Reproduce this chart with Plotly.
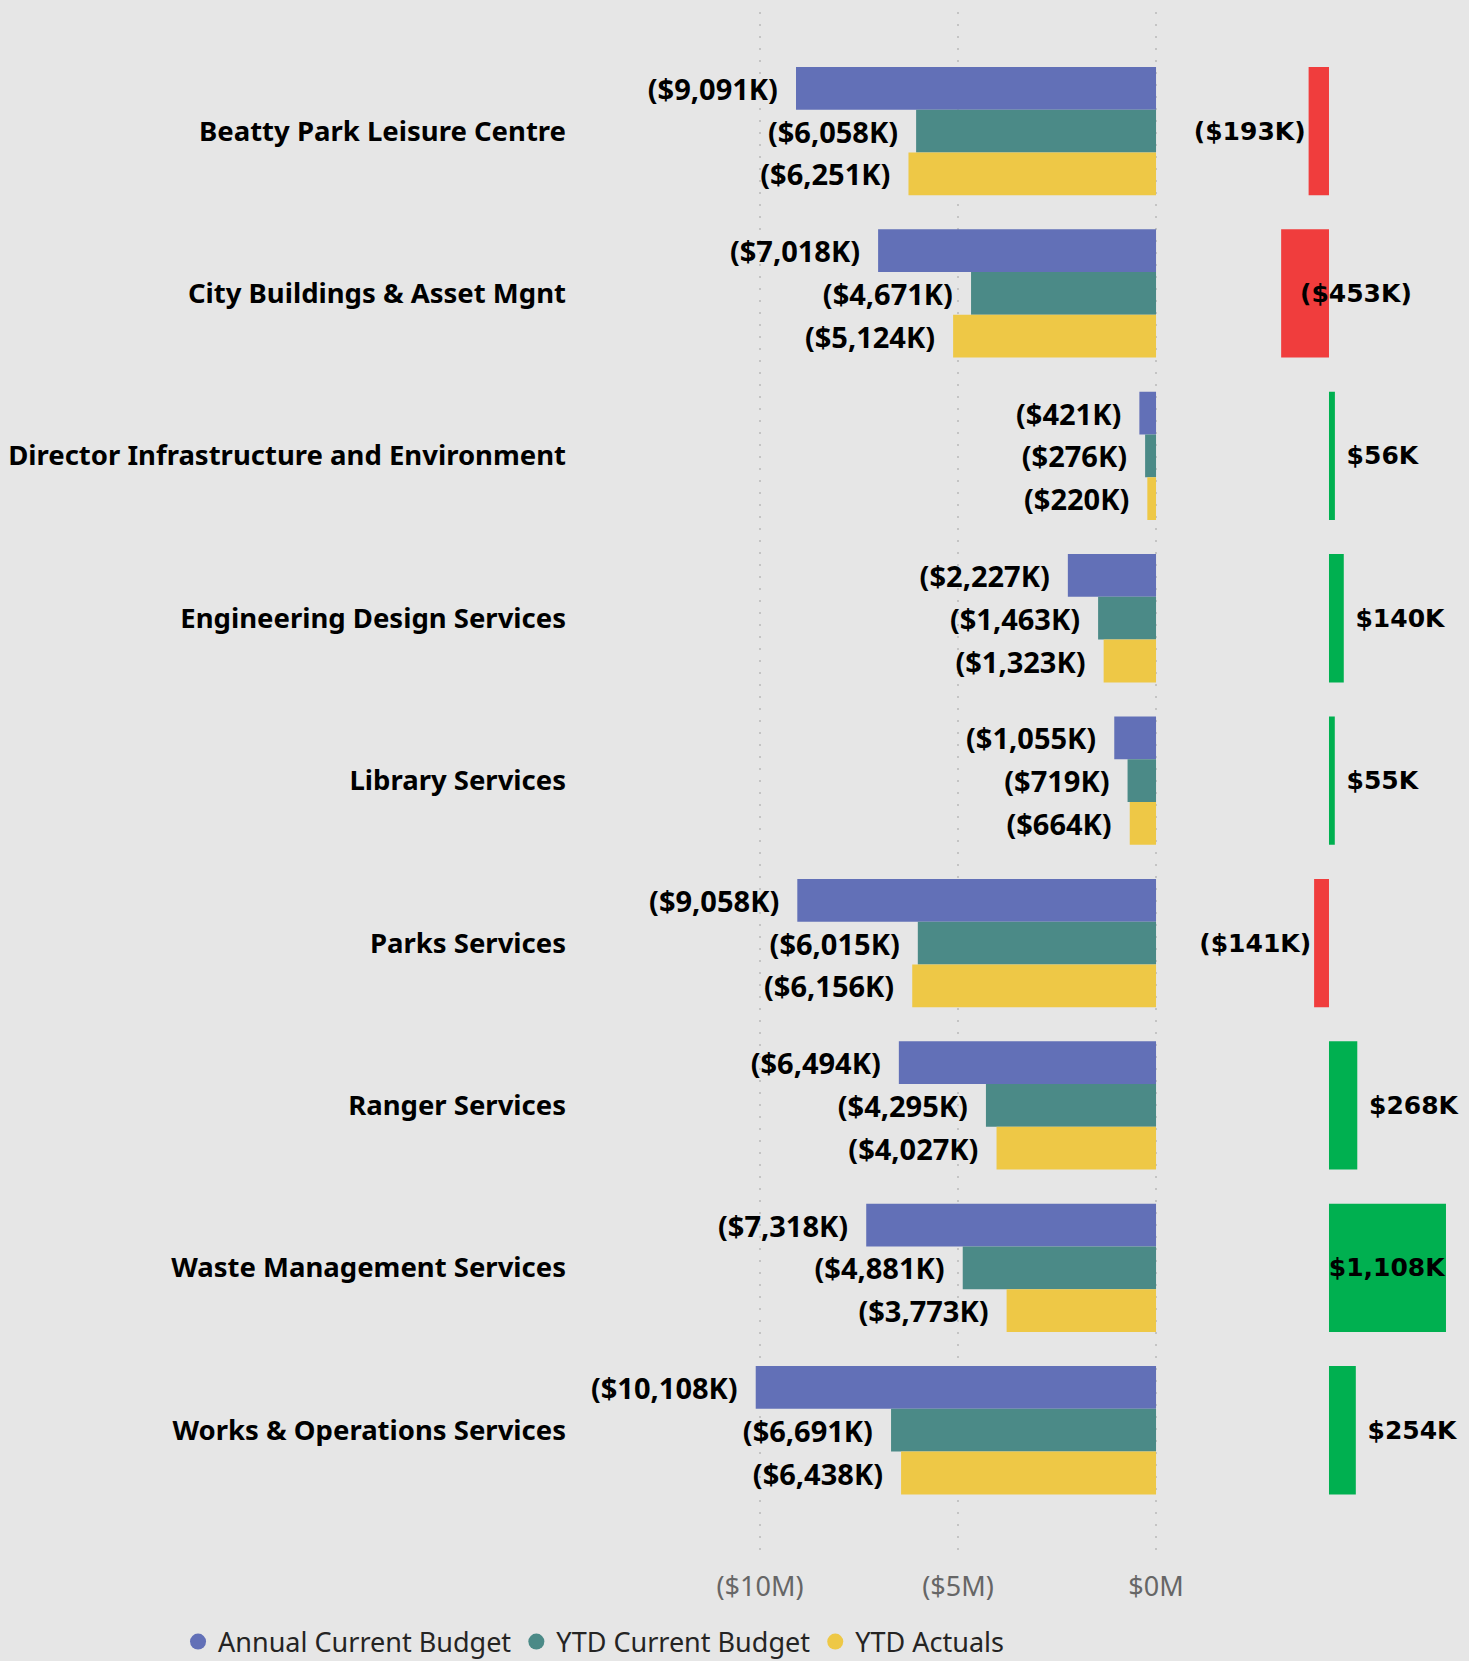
import plotly.graph_objects as go

categories = [
    "Beatty Park Leisure Centre",
    "City Buildings & Asset Mgnt",
    "Director Infrastructure and Environment",
    "Engineering Design Services",
    "Library Services",
    "Parks Services",
    "Ranger Services",
    "Waste Management Services",
    "Works & Operations Services",
]
# values in $K
annual_budget = [-9091, -7018, -421, -2227, -1055, -9058, -6494, -7318, -10108]
ytd_budget = [-6058, -4671, -276, -1463, -719, -6015, -4295, -4881, -6691]
ytd_actuals = [-6251, -5124, -220, -1323, -664, -6156, -4027, -3773, -6438]
variance = [-193, -453, 56, 140, 55, -141, 268, 1108, 254]

x_tick_vals = [-10000, -5000, 0]
x_tick_text = ["($10M)", "($5M)", "$0M"]

series_names = ["Annual Current Budget", "YTD Current Budget", "YTD Actuals"]
series_colors = ["#6270B7", "#4B8A87", "#EEC846"]

NB = "\u00a0"


def fmt_k(v):
    s = "${:,}K".format(abs(v))
    return "(" + s + ")" if v < 0 else s


fig = go.Figure()

label_font = dict(family="Noto Sans", size=29, color="#000000", weight="bold")
var_font = dict(family="DejaVu Sans", size=25, color="#000000", weight="bold")

for name, vals, col in zip(series_names, [annual_budget, ytd_budget, ytd_actuals], series_colors):
    fig.add_trace(go.Bar(
        y=categories, x=vals, orientation="h", name=name,
        marker=dict(color=col, line=dict(width=0)),
        text=[fmt_k(v) + NB * 2 for v in vals],
        textposition="outside", constraintext="none", cliponaxis=False,
        textfont=label_font, showlegend=False, textangle=0,
        xaxis="x", yaxis="y", hoverinfo="skip",
    ))

var_colors = ["#F03D3D" if v < 0 else "#00B050" for v in variance]
var_text = []
var_pos = []
for cat, v in zip(categories, variance):
    if v < 0:
        if abs(v) > 300:
            # label placed just past the bar's end, overlapping it
            var_text.append(""); var_pos.append("none")
            fig.add_annotation(
                x=v, y=cat, xref="x2", yref="y", text=fmt_k(v),
                showarrow=False, xanchor="left", yanchor="middle", xshift=17,
                font=var_font,
            )
        else:
            var_text.append(fmt_k(v)); var_pos.append("outside")
    else:
        if v > 800:
            var_text.append(fmt_k(v)); var_pos.append("inside")
        else:
            var_text.append(NB + fmt_k(v)); var_pos.append("outside")

fig.add_trace(go.Bar(
    y=categories, x=variance, orientation="h", name="Variance",
    marker=dict(color=var_colors, line=dict(width=0)),
    text=var_text, textposition=var_pos, constraintext="none",
    insidetextanchor="middle", cliponaxis=False, textangle=0,
    textfont=var_font,
    showlegend=False, xaxis="x2", yaxis="y", hoverinfo="skip",
))

# legend entries with circle symbols
for name, col in zip(series_names, series_colors):
    fig.add_trace(go.Scatter(
        x=[None], y=[None], mode="markers", name=name,
        marker=dict(color=col, size=19, symbol="circle"),
        xaxis="x", yaxis="y", showlegend=True,
    ))

fig.update_layout(
    width=1469, height=1661, autosize=False,
    margin=dict(l=580, r=0, t=12, b=101, autoexpand=False),
    paper_bgcolor="#E6E6E6", plot_bgcolor="#E6E6E6",
    barmode="group", bargap=0.21, bargroupgap=0,
    font=dict(family="Noto Sans", color="#000000"),
    xaxis=dict(
        domain=[0, 0.6493], range=[-14545, 30],
        tickvals=x_tick_vals, ticktext=x_tick_text,
        tickfont=dict(family="Noto Sans", size=27, color="#666666"),
        showgrid=True, gridcolor="#C4C4C4", gridwidth=2, griddash="2px,10px",
        zeroline=False, showline=False, ticks="", ticklabelstandoff=8,
    ),
    xaxis2=dict(
        domain=[0.6862, 1.0], range=[-1316, 1326], anchor="y",
        showgrid=False, zeroline=False, showline=False, showticklabels=False,
    ),
    yaxis=dict(
        range=[8.799, -0.733], type="category",
        tickfont=dict(family="Noto Sans", size=27.5, color="#000000", weight="bold"),
        showgrid=False, zeroline=False, showline=False, ticks="",
        ticklabelstandoff=13,
    ),
    legend=dict(
        orientation="h", xref="container", yref="container",
        x=0.1212, xanchor="left", y=0.0114, yanchor="middle",
        font=dict(family="Noto Sans", size=27, color="#252423"),
        bgcolor="rgba(0,0,0,0)", itemclick=False,
    ),
    showlegend=True,
)

fig.write_html(
    "out.html",
    config={"responsive": False, "displayModeBar": False},
    post_script="document.body.style.margin='0';document.body.style.overflow='hidden';"
                "document.body.style.background='#E6E6E6';",
)
